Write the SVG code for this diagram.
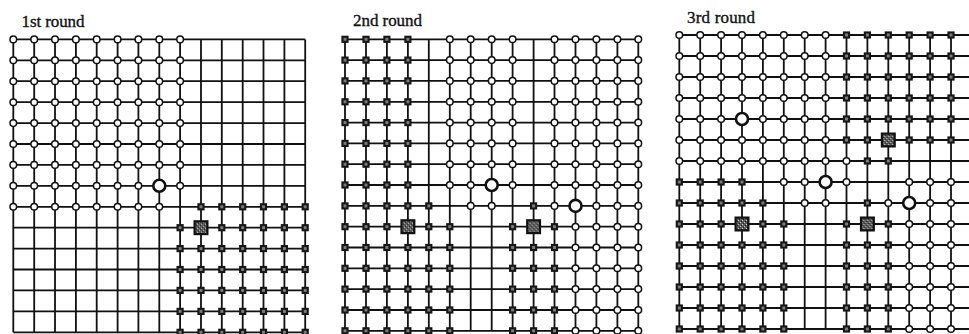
<svg xmlns="http://www.w3.org/2000/svg" width="969" height="334" viewBox="0 0 969 334">
<style>
.grid{fill:none;stroke:#111;stroke-width:1.8}
.lbl{font-family:"Liberation Serif","Times New Roman",serif;font-size:17px;fill:#111;stroke:#111;stroke-width:0.35}
</style>
<defs>
<pattern id="speck" width="4" height="4" patternUnits="userSpaceOnUse"><rect width="4" height="4" fill="#5a5a5a"/><rect x="0" y="0" width="1" height="1" fill="#ccc"/><rect x="2" y="2" width="1" height="1" fill="#ccc"/><rect x="1" y="3" width="1" height="1" fill="#1a1a1a"/><rect x="3" y="1" width="1" height="1" fill="#1a1a1a"/></pattern>
<circle id="c" r="3.3" fill="#fff" stroke="#111" stroke-width="1.5"/>
<circle id="C" r="6" fill="#fff" stroke="#111" stroke-width="2.6"/>
<g id="s"><rect x="-3.6" y="-3.6" width="7.2" height="7.2" fill="#161616"/><rect x="-1.5" y="-1.5" width="3" height="3" fill="#7a7a7a"/></g>
<g id="S"><rect x="-6.4" y="-6.4" width="12.8" height="12.8" fill="url(#speck)" stroke="#111" stroke-width="2.2"/></g>
</defs>
<rect width="969" height="334" fill="#fff"/>
<text class="lbl" x="21.5" y="27" textLength="63">1st round</text>
<text class="lbl" x="353" y="25.5" textLength="69">2nd round</text>
<text class="lbl" x="687" y="22.5" textLength="68">3rd round</text>
<g id="connectors">
<path class="grid" d="M13.3 39.4H305.2M13.3 60.3H305.2M13.3 81.2H305.2M13.3 102.2H305.2M13.3 123.1H305.2M13.3 144H305.2M13.3 164.9H305.2M13.3 185.8H305.2M13.3 206.8H305.2M13.3 227.7H305.2M13.3 248.6H305.2M13.3 269.5H305.2M13.3 290.4H305.2M13.3 311.4H305.2M13.3 332.3H305.2M13.3 39.4V332.3M34.2 39.4V332.3M55 39.4V332.3M75.9 39.4V332.3M96.7 39.4V332.3M117.6 39.4V332.3M138.4 39.4V332.3M159.3 39.4V332.3M180.1 39.4V332.3M201 39.4V332.3M221.8 39.4V332.3M242.7 39.4V332.3M263.5 39.4V332.3M284.4 39.4V332.3M305.2 39.4V332.3"/>
<path class="grid" d="M345 39.3H638.3M345 60.1H638.3M345 80.9H638.3M345 101.8H638.3M345 122.6H638.3M345 143.4H638.3M345 164.2H638.3M345 185H638.3M345 205.9H638.3M345 226.7H638.3M345 247.5H638.3M345 268.3H638.3M345 289.1H638.3M345 310H638.3M345 330.8H638.3M345 39.3V330.8M366 39.3V330.8M386.9 39.3V330.8M407.9 39.3V330.8M428.8 39.3V330.8M449.8 39.3V330.8M470.7 39.3V330.8M491.7 39.3V330.8M512.6 39.3V330.8M533.6 39.3V330.8M554.5 39.3V330.8M575.5 39.3V330.8M596.4 39.3V330.8M617.4 39.3V330.8M638.3 39.3V330.8"/>
<path class="grid" d="M679.3 35H971.9M679.3 56H971.9M679.3 77H971.9M679.3 98H971.9M679.3 119H971.9M679.3 140H971.9M679.3 161H971.9M679.3 182H971.9M679.3 203H971.9M679.3 224H971.9M679.3 245H971.9M679.3 266H971.9M679.3 287H971.9M679.3 308H971.9M679.3 329H971.9M679.3 35V329M700.2 35V329M721.1 35V329M742 35V329M762.9 35V329M783.8 35V329M804.7 35V329M825.6 35V329M846.5 35V329M867.4 35V329M888.3 35V329M909.2 35V329M930.1 35V329M951 35V329M971.9 35V329"/>
</g>
<g id="round1">
<g id="r1-0-0"><use href="#c" x="13.3" y="39.4"/></g><g id="r1-0-1"><use href="#c" x="34.2" y="39.4"/></g><g id="r1-0-2"><use href="#c" x="55" y="39.4"/></g><g id="r1-0-3"><use href="#c" x="75.9" y="39.4"/></g><g id="r1-0-4"><use href="#c" x="96.7" y="39.4"/></g><g id="r1-0-5"><use href="#c" x="117.6" y="39.4"/></g><g id="r1-0-6"><use href="#c" x="138.4" y="39.4"/></g><g id="r1-0-7"><use href="#c" x="159.3" y="39.4"/></g><g id="r1-0-8"><use href="#c" x="180.1" y="39.4"/></g>
<g id="r1-1-0"><use href="#c" x="13.3" y="60.3"/></g><g id="r1-1-1"><use href="#c" x="34.2" y="60.3"/></g><g id="r1-1-2"><use href="#c" x="55" y="60.3"/></g><g id="r1-1-3"><use href="#c" x="75.9" y="60.3"/></g><g id="r1-1-4"><use href="#c" x="96.7" y="60.3"/></g><g id="r1-1-5"><use href="#c" x="117.6" y="60.3"/></g><g id="r1-1-6"><use href="#c" x="138.4" y="60.3"/></g><g id="r1-1-7"><use href="#c" x="159.3" y="60.3"/></g><g id="r1-1-8"><use href="#c" x="180.1" y="60.3"/></g>
<g id="r1-2-0"><use href="#c" x="13.3" y="81.2"/></g><g id="r1-2-1"><use href="#c" x="34.2" y="81.2"/></g><g id="r1-2-2"><use href="#c" x="55" y="81.2"/></g><g id="r1-2-3"><use href="#c" x="75.9" y="81.2"/></g><g id="r1-2-4"><use href="#c" x="96.7" y="81.2"/></g><g id="r1-2-5"><use href="#c" x="117.6" y="81.2"/></g><g id="r1-2-6"><use href="#c" x="138.4" y="81.2"/></g><g id="r1-2-7"><use href="#c" x="159.3" y="81.2"/></g><g id="r1-2-8"><use href="#c" x="180.1" y="81.2"/></g>
<g id="r1-3-0"><use href="#c" x="13.3" y="102.2"/></g><g id="r1-3-1"><use href="#c" x="34.2" y="102.2"/></g><g id="r1-3-2"><use href="#c" x="55" y="102.2"/></g><g id="r1-3-3"><use href="#c" x="75.9" y="102.2"/></g><g id="r1-3-4"><use href="#c" x="96.7" y="102.2"/></g><g id="r1-3-5"><use href="#c" x="117.6" y="102.2"/></g><g id="r1-3-6"><use href="#c" x="138.4" y="102.2"/></g><g id="r1-3-7"><use href="#c" x="159.3" y="102.2"/></g><g id="r1-3-8"><use href="#c" x="180.1" y="102.2"/></g>
<g id="r1-4-0"><use href="#c" x="13.3" y="123.1"/></g><g id="r1-4-1"><use href="#c" x="34.2" y="123.1"/></g><g id="r1-4-2"><use href="#c" x="55" y="123.1"/></g><g id="r1-4-3"><use href="#c" x="75.9" y="123.1"/></g><g id="r1-4-4"><use href="#c" x="96.7" y="123.1"/></g><g id="r1-4-5"><use href="#c" x="117.6" y="123.1"/></g><g id="r1-4-6"><use href="#c" x="138.4" y="123.1"/></g><g id="r1-4-7"><use href="#c" x="159.3" y="123.1"/></g><g id="r1-4-8"><use href="#c" x="180.1" y="123.1"/></g>
<g id="r1-5-0"><use href="#c" x="13.3" y="144"/></g><g id="r1-5-1"><use href="#c" x="34.2" y="144"/></g><g id="r1-5-2"><use href="#c" x="55" y="144"/></g><g id="r1-5-3"><use href="#c" x="75.9" y="144"/></g><g id="r1-5-4"><use href="#c" x="96.7" y="144"/></g><g id="r1-5-5"><use href="#c" x="117.6" y="144"/></g><g id="r1-5-6"><use href="#c" x="138.4" y="144"/></g><g id="r1-5-7"><use href="#c" x="159.3" y="144"/></g><g id="r1-5-8"><use href="#c" x="180.1" y="144"/></g>
<g id="r1-6-0"><use href="#c" x="13.3" y="164.9"/></g><g id="r1-6-1"><use href="#c" x="34.2" y="164.9"/></g><g id="r1-6-2"><use href="#c" x="55" y="164.9"/></g><g id="r1-6-3"><use href="#c" x="75.9" y="164.9"/></g><g id="r1-6-4"><use href="#c" x="96.7" y="164.9"/></g><g id="r1-6-5"><use href="#c" x="117.6" y="164.9"/></g><g id="r1-6-6"><use href="#c" x="138.4" y="164.9"/></g><g id="r1-6-7"><use href="#c" x="159.3" y="164.9"/></g><g id="r1-6-8"><use href="#c" x="180.1" y="164.9"/></g>
<g id="r1-7-0"><use href="#c" x="13.3" y="185.8"/></g><g id="r1-7-1"><use href="#c" x="34.2" y="185.8"/></g><g id="r1-7-2"><use href="#c" x="55" y="185.8"/></g><g id="r1-7-3"><use href="#c" x="75.9" y="185.8"/></g><g id="r1-7-4"><use href="#c" x="96.7" y="185.8"/></g><g id="r1-7-5"><use href="#c" x="117.6" y="185.8"/></g><g id="r1-7-6"><use href="#c" x="138.4" y="185.8"/></g><g id="r1-7-7"><use href="#C" x="159.3" y="185.8"/></g><g id="r1-7-8"><use href="#c" x="180.1" y="185.8"/></g>
<g id="r1-8-0"><use href="#c" x="13.3" y="206.8"/></g><g id="r1-8-1"><use href="#c" x="34.2" y="206.8"/></g><g id="r1-8-2"><use href="#c" x="55" y="206.8"/></g><g id="r1-8-3"><use href="#c" x="75.9" y="206.8"/></g><g id="r1-8-4"><use href="#c" x="96.7" y="206.8"/></g><g id="r1-8-5"><use href="#c" x="117.6" y="206.8"/></g><g id="r1-8-6"><use href="#c" x="138.4" y="206.8"/></g><g id="r1-8-7"><use href="#c" x="159.3" y="206.8"/></g><g id="r1-8-9"><use href="#s" x="201" y="206.8"/></g><g id="r1-8-10"><use href="#s" x="221.8" y="206.8"/></g><g id="r1-8-11"><use href="#s" x="242.7" y="206.8"/></g><g id="r1-8-12"><use href="#s" x="263.5" y="206.8"/></g><g id="r1-8-13"><use href="#s" x="284.4" y="206.8"/></g><g id="r1-8-14"><use href="#s" x="305.2" y="206.8"/></g>
<g id="r1-9-8"><use href="#s" x="180.1" y="227.7"/></g><g id="r1-9-9"><use href="#S" x="201" y="227.7"/></g><g id="r1-9-10"><use href="#s" x="221.8" y="227.7"/></g><g id="r1-9-11"><use href="#s" x="242.7" y="227.7"/></g><g id="r1-9-12"><use href="#s" x="263.5" y="227.7"/></g><g id="r1-9-13"><use href="#s" x="284.4" y="227.7"/></g><g id="r1-9-14"><use href="#s" x="305.2" y="227.7"/></g>
<g id="r1-10-8"><use href="#s" x="180.1" y="248.6"/></g><g id="r1-10-9"><use href="#s" x="201" y="248.6"/></g><g id="r1-10-10"><use href="#s" x="221.8" y="248.6"/></g><g id="r1-10-11"><use href="#s" x="242.7" y="248.6"/></g><g id="r1-10-12"><use href="#s" x="263.5" y="248.6"/></g><g id="r1-10-13"><use href="#s" x="284.4" y="248.6"/></g><g id="r1-10-14"><use href="#s" x="305.2" y="248.6"/></g>
<g id="r1-11-8"><use href="#s" x="180.1" y="269.5"/></g><g id="r1-11-9"><use href="#s" x="201" y="269.5"/></g><g id="r1-11-10"><use href="#s" x="221.8" y="269.5"/></g><g id="r1-11-11"><use href="#s" x="242.7" y="269.5"/></g><g id="r1-11-12"><use href="#s" x="263.5" y="269.5"/></g><g id="r1-11-13"><use href="#s" x="284.4" y="269.5"/></g><g id="r1-11-14"><use href="#s" x="305.2" y="269.5"/></g>
<g id="r1-12-8"><use href="#s" x="180.1" y="290.4"/></g><g id="r1-12-9"><use href="#s" x="201" y="290.4"/></g><g id="r1-12-10"><use href="#s" x="221.8" y="290.4"/></g><g id="r1-12-11"><use href="#s" x="242.7" y="290.4"/></g><g id="r1-12-12"><use href="#s" x="263.5" y="290.4"/></g><g id="r1-12-13"><use href="#s" x="284.4" y="290.4"/></g><g id="r1-12-14"><use href="#s" x="305.2" y="290.4"/></g>
<g id="r1-13-8"><use href="#s" x="180.1" y="311.4"/></g><g id="r1-13-9"><use href="#s" x="201" y="311.4"/></g><g id="r1-13-10"><use href="#s" x="221.8" y="311.4"/></g><g id="r1-13-11"><use href="#s" x="242.7" y="311.4"/></g><g id="r1-13-12"><use href="#s" x="263.5" y="311.4"/></g><g id="r1-13-13"><use href="#s" x="284.4" y="311.4"/></g><g id="r1-13-14"><use href="#s" x="305.2" y="311.4"/></g>
<g id="r1-14-8"><use href="#s" x="180.1" y="332.3"/></g><g id="r1-14-9"><use href="#s" x="201" y="332.3"/></g><g id="r1-14-10"><use href="#s" x="221.8" y="332.3"/></g><g id="r1-14-11"><use href="#s" x="242.7" y="332.3"/></g><g id="r1-14-12"><use href="#s" x="263.5" y="332.3"/></g><g id="r1-14-13"><use href="#s" x="284.4" y="332.3"/></g><g id="r1-14-14"><use href="#s" x="305.2" y="332.3"/></g>
</g>
<g id="round2">
<g id="r2-0-0"><use href="#s" x="345" y="39.3"/></g><g id="r2-0-1"><use href="#s" x="366" y="39.3"/></g><g id="r2-0-2"><use href="#s" x="386.9" y="39.3"/></g><g id="r2-0-3"><use href="#s" x="407.9" y="39.3"/></g><g id="r2-0-5"><use href="#c" x="449.8" y="39.3"/></g><g id="r2-0-6"><use href="#c" x="470.7" y="39.3"/></g><g id="r2-0-7"><use href="#c" x="491.7" y="39.3"/></g><g id="r2-0-8"><use href="#c" x="512.6" y="39.3"/></g><g id="r2-0-10"><use href="#c" x="554.5" y="39.3"/></g><g id="r2-0-11"><use href="#c" x="575.5" y="39.3"/></g><g id="r2-0-12"><use href="#c" x="596.4" y="39.3"/></g><g id="r2-0-13"><use href="#c" x="617.4" y="39.3"/></g><g id="r2-0-14"><use href="#c" x="638.3" y="39.3"/></g>
<g id="r2-1-0"><use href="#s" x="345" y="60.1"/></g><g id="r2-1-1"><use href="#s" x="366" y="60.1"/></g><g id="r2-1-2"><use href="#s" x="386.9" y="60.1"/></g><g id="r2-1-3"><use href="#s" x="407.9" y="60.1"/></g><g id="r2-1-5"><use href="#c" x="449.8" y="60.1"/></g><g id="r2-1-6"><use href="#c" x="470.7" y="60.1"/></g><g id="r2-1-7"><use href="#c" x="491.7" y="60.1"/></g><g id="r2-1-8"><use href="#c" x="512.6" y="60.1"/></g><g id="r2-1-10"><use href="#c" x="554.5" y="60.1"/></g><g id="r2-1-11"><use href="#c" x="575.5" y="60.1"/></g><g id="r2-1-12"><use href="#c" x="596.4" y="60.1"/></g><g id="r2-1-13"><use href="#c" x="617.4" y="60.1"/></g><g id="r2-1-14"><use href="#c" x="638.3" y="60.1"/></g>
<g id="r2-2-0"><use href="#s" x="345" y="80.9"/></g><g id="r2-2-1"><use href="#s" x="366" y="80.9"/></g><g id="r2-2-2"><use href="#s" x="386.9" y="80.9"/></g><g id="r2-2-3"><use href="#s" x="407.9" y="80.9"/></g><g id="r2-2-5"><use href="#c" x="449.8" y="80.9"/></g><g id="r2-2-6"><use href="#c" x="470.7" y="80.9"/></g><g id="r2-2-7"><use href="#c" x="491.7" y="80.9"/></g><g id="r2-2-8"><use href="#c" x="512.6" y="80.9"/></g><g id="r2-2-10"><use href="#c" x="554.5" y="80.9"/></g><g id="r2-2-11"><use href="#c" x="575.5" y="80.9"/></g><g id="r2-2-12"><use href="#c" x="596.4" y="80.9"/></g><g id="r2-2-13"><use href="#c" x="617.4" y="80.9"/></g><g id="r2-2-14"><use href="#c" x="638.3" y="80.9"/></g>
<g id="r2-3-0"><use href="#s" x="345" y="101.8"/></g><g id="r2-3-1"><use href="#s" x="366" y="101.8"/></g><g id="r2-3-2"><use href="#s" x="386.9" y="101.8"/></g><g id="r2-3-3"><use href="#s" x="407.9" y="101.8"/></g><g id="r2-3-5"><use href="#c" x="449.8" y="101.8"/></g><g id="r2-3-6"><use href="#c" x="470.7" y="101.8"/></g><g id="r2-3-7"><use href="#c" x="491.7" y="101.8"/></g><g id="r2-3-8"><use href="#c" x="512.6" y="101.8"/></g><g id="r2-3-10"><use href="#c" x="554.5" y="101.8"/></g><g id="r2-3-11"><use href="#c" x="575.5" y="101.8"/></g><g id="r2-3-12"><use href="#c" x="596.4" y="101.8"/></g><g id="r2-3-13"><use href="#c" x="617.4" y="101.8"/></g><g id="r2-3-14"><use href="#c" x="638.3" y="101.8"/></g>
<g id="r2-4-0"><use href="#s" x="345" y="122.6"/></g><g id="r2-4-1"><use href="#s" x="366" y="122.6"/></g><g id="r2-4-2"><use href="#s" x="386.9" y="122.6"/></g><g id="r2-4-3"><use href="#s" x="407.9" y="122.6"/></g><g id="r2-4-5"><use href="#c" x="449.8" y="122.6"/></g><g id="r2-4-6"><use href="#c" x="470.7" y="122.6"/></g><g id="r2-4-7"><use href="#c" x="491.7" y="122.6"/></g><g id="r2-4-8"><use href="#c" x="512.6" y="122.6"/></g><g id="r2-4-10"><use href="#c" x="554.5" y="122.6"/></g><g id="r2-4-11"><use href="#c" x="575.5" y="122.6"/></g><g id="r2-4-12"><use href="#c" x="596.4" y="122.6"/></g><g id="r2-4-13"><use href="#c" x="617.4" y="122.6"/></g><g id="r2-4-14"><use href="#c" x="638.3" y="122.6"/></g>
<g id="r2-5-0"><use href="#s" x="345" y="143.4"/></g><g id="r2-5-1"><use href="#s" x="366" y="143.4"/></g><g id="r2-5-2"><use href="#s" x="386.9" y="143.4"/></g><g id="r2-5-3"><use href="#s" x="407.9" y="143.4"/></g><g id="r2-5-5"><use href="#c" x="449.8" y="143.4"/></g><g id="r2-5-6"><use href="#c" x="470.7" y="143.4"/></g><g id="r2-5-7"><use href="#c" x="491.7" y="143.4"/></g><g id="r2-5-8"><use href="#c" x="512.6" y="143.4"/></g><g id="r2-5-10"><use href="#c" x="554.5" y="143.4"/></g><g id="r2-5-11"><use href="#c" x="575.5" y="143.4"/></g><g id="r2-5-12"><use href="#c" x="596.4" y="143.4"/></g><g id="r2-5-13"><use href="#c" x="617.4" y="143.4"/></g><g id="r2-5-14"><use href="#c" x="638.3" y="143.4"/></g>
<g id="r2-6-0"><use href="#s" x="345" y="164.2"/></g><g id="r2-6-1"><use href="#s" x="366" y="164.2"/></g><g id="r2-6-2"><use href="#s" x="386.9" y="164.2"/></g><g id="r2-6-3"><use href="#s" x="407.9" y="164.2"/></g><g id="r2-6-5"><use href="#c" x="449.8" y="164.2"/></g><g id="r2-6-6"><use href="#c" x="470.7" y="164.2"/></g><g id="r2-6-7"><use href="#c" x="491.7" y="164.2"/></g><g id="r2-6-8"><use href="#c" x="512.6" y="164.2"/></g><g id="r2-6-10"><use href="#c" x="554.5" y="164.2"/></g><g id="r2-6-11"><use href="#c" x="575.5" y="164.2"/></g><g id="r2-6-12"><use href="#c" x="596.4" y="164.2"/></g><g id="r2-6-13"><use href="#c" x="617.4" y="164.2"/></g><g id="r2-6-14"><use href="#c" x="638.3" y="164.2"/></g>
<g id="r2-7-0"><use href="#s" x="345" y="185"/></g><g id="r2-7-1"><use href="#s" x="366" y="185"/></g><g id="r2-7-2"><use href="#s" x="386.9" y="185"/></g><g id="r2-7-3"><use href="#s" x="407.9" y="185"/></g><g id="r2-7-5"><use href="#c" x="449.8" y="185"/></g><g id="r2-7-6"><use href="#c" x="470.7" y="185"/></g><g id="r2-7-7"><use href="#C" x="491.7" y="185"/></g><g id="r2-7-8"><use href="#c" x="512.6" y="185"/></g><g id="r2-7-10"><use href="#c" x="554.5" y="185"/></g><g id="r2-7-11"><use href="#c" x="575.5" y="185"/></g><g id="r2-7-12"><use href="#c" x="596.4" y="185"/></g><g id="r2-7-13"><use href="#c" x="617.4" y="185"/></g><g id="r2-7-14"><use href="#c" x="638.3" y="185"/></g>
<g id="r2-8-0"><use href="#s" x="345" y="205.9"/></g><g id="r2-8-1"><use href="#s" x="366" y="205.9"/></g><g id="r2-8-2"><use href="#s" x="386.9" y="205.9"/></g><g id="r2-8-3"><use href="#s" x="407.9" y="205.9"/></g><g id="r2-8-4"><use href="#s" x="428.8" y="205.9"/></g><g id="r2-8-6"><use href="#c" x="470.7" y="205.9"/></g><g id="r2-8-7"><use href="#c" x="491.7" y="205.9"/></g><g id="r2-8-9"><use href="#s" x="533.6" y="205.9"/></g><g id="r2-8-10"><use href="#c" x="554.5" y="205.9"/></g><g id="r2-8-11"><use href="#C" x="575.5" y="205.9"/></g><g id="r2-8-12"><use href="#c" x="596.4" y="205.9"/></g><g id="r2-8-13"><use href="#c" x="617.4" y="205.9"/></g><g id="r2-8-14"><use href="#c" x="638.3" y="205.9"/></g>
<g id="r2-9-0"><use href="#s" x="345" y="226.7"/></g><g id="r2-9-1"><use href="#s" x="366" y="226.7"/></g><g id="r2-9-2"><use href="#s" x="386.9" y="226.7"/></g><g id="r2-9-3"><use href="#S" x="407.9" y="226.7"/></g><g id="r2-9-4"><use href="#s" x="428.8" y="226.7"/></g><g id="r2-9-5"><use href="#s" x="449.8" y="226.7"/></g><g id="r2-9-8"><use href="#s" x="512.6" y="226.7"/></g><g id="r2-9-9"><use href="#S" x="533.6" y="226.7"/></g><g id="r2-9-10"><use href="#s" x="554.5" y="226.7"/></g><g id="r2-9-11"><use href="#c" x="575.5" y="226.7"/></g><g id="r2-9-12"><use href="#c" x="596.4" y="226.7"/></g><g id="r2-9-13"><use href="#c" x="617.4" y="226.7"/></g><g id="r2-9-14"><use href="#c" x="638.3" y="226.7"/></g>
<g id="r2-10-0"><use href="#s" x="345" y="247.5"/></g><g id="r2-10-1"><use href="#s" x="366" y="247.5"/></g><g id="r2-10-2"><use href="#s" x="386.9" y="247.5"/></g><g id="r2-10-3"><use href="#s" x="407.9" y="247.5"/></g><g id="r2-10-4"><use href="#s" x="428.8" y="247.5"/></g><g id="r2-10-5"><use href="#s" x="449.8" y="247.5"/></g><g id="r2-10-8"><use href="#s" x="512.6" y="247.5"/></g><g id="r2-10-9"><use href="#s" x="533.6" y="247.5"/></g><g id="r2-10-10"><use href="#s" x="554.5" y="247.5"/></g><g id="r2-10-11"><use href="#c" x="575.5" y="247.5"/></g><g id="r2-10-12"><use href="#c" x="596.4" y="247.5"/></g><g id="r2-10-13"><use href="#c" x="617.4" y="247.5"/></g><g id="r2-10-14"><use href="#c" x="638.3" y="247.5"/></g>
<g id="r2-11-0"><use href="#s" x="345" y="268.3"/></g><g id="r2-11-1"><use href="#s" x="366" y="268.3"/></g><g id="r2-11-2"><use href="#s" x="386.9" y="268.3"/></g><g id="r2-11-3"><use href="#s" x="407.9" y="268.3"/></g><g id="r2-11-4"><use href="#s" x="428.8" y="268.3"/></g><g id="r2-11-5"><use href="#s" x="449.8" y="268.3"/></g><g id="r2-11-8"><use href="#s" x="512.6" y="268.3"/></g><g id="r2-11-9"><use href="#s" x="533.6" y="268.3"/></g><g id="r2-11-10"><use href="#s" x="554.5" y="268.3"/></g><g id="r2-11-11"><use href="#c" x="575.5" y="268.3"/></g><g id="r2-11-12"><use href="#c" x="596.4" y="268.3"/></g><g id="r2-11-13"><use href="#c" x="617.4" y="268.3"/></g><g id="r2-11-14"><use href="#c" x="638.3" y="268.3"/></g>
<g id="r2-12-0"><use href="#s" x="345" y="289.1"/></g><g id="r2-12-1"><use href="#s" x="366" y="289.1"/></g><g id="r2-12-2"><use href="#s" x="386.9" y="289.1"/></g><g id="r2-12-3"><use href="#s" x="407.9" y="289.1"/></g><g id="r2-12-4"><use href="#s" x="428.8" y="289.1"/></g><g id="r2-12-5"><use href="#s" x="449.8" y="289.1"/></g><g id="r2-12-8"><use href="#s" x="512.6" y="289.1"/></g><g id="r2-12-9"><use href="#s" x="533.6" y="289.1"/></g><g id="r2-12-10"><use href="#s" x="554.5" y="289.1"/></g><g id="r2-12-11"><use href="#c" x="575.5" y="289.1"/></g><g id="r2-12-12"><use href="#c" x="596.4" y="289.1"/></g><g id="r2-12-13"><use href="#c" x="617.4" y="289.1"/></g><g id="r2-12-14"><use href="#c" x="638.3" y="289.1"/></g>
<g id="r2-13-0"><use href="#s" x="345" y="310"/></g><g id="r2-13-1"><use href="#s" x="366" y="310"/></g><g id="r2-13-2"><use href="#s" x="386.9" y="310"/></g><g id="r2-13-3"><use href="#s" x="407.9" y="310"/></g><g id="r2-13-4"><use href="#s" x="428.8" y="310"/></g><g id="r2-13-5"><use href="#s" x="449.8" y="310"/></g><g id="r2-13-8"><use href="#s" x="512.6" y="310"/></g><g id="r2-13-9"><use href="#s" x="533.6" y="310"/></g><g id="r2-13-10"><use href="#s" x="554.5" y="310"/></g><g id="r2-13-11"><use href="#c" x="575.5" y="310"/></g><g id="r2-13-12"><use href="#c" x="596.4" y="310"/></g><g id="r2-13-13"><use href="#c" x="617.4" y="310"/></g><g id="r2-13-14"><use href="#c" x="638.3" y="310"/></g>
<g id="r2-14-0"><use href="#s" x="345" y="330.8"/></g><g id="r2-14-1"><use href="#s" x="366" y="330.8"/></g><g id="r2-14-2"><use href="#s" x="386.9" y="330.8"/></g><g id="r2-14-3"><use href="#s" x="407.9" y="330.8"/></g><g id="r2-14-4"><use href="#s" x="428.8" y="330.8"/></g><g id="r2-14-5"><use href="#s" x="449.8" y="330.8"/></g><g id="r2-14-8"><use href="#s" x="512.6" y="330.8"/></g><g id="r2-14-9"><use href="#s" x="533.6" y="330.8"/></g><g id="r2-14-10"><use href="#s" x="554.5" y="330.8"/></g><g id="r2-14-11"><use href="#c" x="575.5" y="330.8"/></g><g id="r2-14-12"><use href="#c" x="596.4" y="330.8"/></g><g id="r2-14-13"><use href="#c" x="617.4" y="330.8"/></g><g id="r2-14-14"><use href="#c" x="638.3" y="330.8"/></g>
</g>
<g id="round3">
<g id="r3-0-0"><use href="#c" x="679.3" y="35"/></g><g id="r3-0-1"><use href="#c" x="700.2" y="35"/></g><g id="r3-0-2"><use href="#c" x="721.1" y="35"/></g><g id="r3-0-3"><use href="#c" x="742" y="35"/></g><g id="r3-0-4"><use href="#c" x="762.9" y="35"/></g><g id="r3-0-5"><use href="#c" x="783.8" y="35"/></g><g id="r3-0-6"><use href="#c" x="804.7" y="35"/></g><g id="r3-0-7"><use href="#c" x="825.6" y="35"/></g><g id="r3-0-8"><use href="#s" x="846.5" y="35"/></g><g id="r3-0-9"><use href="#s" x="867.4" y="35"/></g><g id="r3-0-10"><use href="#s" x="888.3" y="35"/></g><g id="r3-0-11"><use href="#s" x="909.2" y="35"/></g><g id="r3-0-12"><use href="#s" x="930.1" y="35"/></g><g id="r3-0-13"><use href="#s" x="951" y="35"/></g>
<g id="r3-1-0"><use href="#c" x="679.3" y="56"/></g><g id="r3-1-1"><use href="#c" x="700.2" y="56"/></g><g id="r3-1-2"><use href="#c" x="721.1" y="56"/></g><g id="r3-1-3"><use href="#c" x="742" y="56"/></g><g id="r3-1-4"><use href="#c" x="762.9" y="56"/></g><g id="r3-1-5"><use href="#c" x="783.8" y="56"/></g><g id="r3-1-6"><use href="#c" x="804.7" y="56"/></g><g id="r3-1-7"><use href="#c" x="825.6" y="56"/></g><g id="r3-1-8"><use href="#s" x="846.5" y="56"/></g><g id="r3-1-9"><use href="#s" x="867.4" y="56"/></g><g id="r3-1-10"><use href="#s" x="888.3" y="56"/></g><g id="r3-1-11"><use href="#s" x="909.2" y="56"/></g><g id="r3-1-12"><use href="#s" x="930.1" y="56"/></g><g id="r3-1-13"><use href="#s" x="951" y="56"/></g>
<g id="r3-2-0"><use href="#c" x="679.3" y="77"/></g><g id="r3-2-1"><use href="#c" x="700.2" y="77"/></g><g id="r3-2-2"><use href="#c" x="721.1" y="77"/></g><g id="r3-2-3"><use href="#c" x="742" y="77"/></g><g id="r3-2-4"><use href="#c" x="762.9" y="77"/></g><g id="r3-2-5"><use href="#c" x="783.8" y="77"/></g><g id="r3-2-6"><use href="#c" x="804.7" y="77"/></g><g id="r3-2-7"><use href="#c" x="825.6" y="77"/></g><g id="r3-2-8"><use href="#s" x="846.5" y="77"/></g><g id="r3-2-9"><use href="#s" x="867.4" y="77"/></g><g id="r3-2-10"><use href="#s" x="888.3" y="77"/></g><g id="r3-2-11"><use href="#s" x="909.2" y="77"/></g><g id="r3-2-12"><use href="#s" x="930.1" y="77"/></g><g id="r3-2-13"><use href="#s" x="951" y="77"/></g>
<g id="r3-3-0"><use href="#c" x="679.3" y="98"/></g><g id="r3-3-1"><use href="#c" x="700.2" y="98"/></g><g id="r3-3-2"><use href="#c" x="721.1" y="98"/></g><g id="r3-3-3"><use href="#c" x="742" y="98"/></g><g id="r3-3-4"><use href="#c" x="762.9" y="98"/></g><g id="r3-3-5"><use href="#c" x="783.8" y="98"/></g><g id="r3-3-6"><use href="#c" x="804.7" y="98"/></g><g id="r3-3-7"><use href="#c" x="825.6" y="98"/></g><g id="r3-3-8"><use href="#s" x="846.5" y="98"/></g><g id="r3-3-9"><use href="#s" x="867.4" y="98"/></g><g id="r3-3-10"><use href="#s" x="888.3" y="98"/></g><g id="r3-3-11"><use href="#s" x="909.2" y="98"/></g><g id="r3-3-12"><use href="#s" x="930.1" y="98"/></g><g id="r3-3-13"><use href="#s" x="951" y="98"/></g>
<g id="r3-4-0"><use href="#c" x="679.3" y="119"/></g><g id="r3-4-1"><use href="#c" x="700.2" y="119"/></g><g id="r3-4-2"><use href="#c" x="721.1" y="119"/></g><g id="r3-4-3"><use href="#C" x="742" y="119"/></g><g id="r3-4-4"><use href="#c" x="762.9" y="119"/></g><g id="r3-4-5"><use href="#c" x="783.8" y="119"/></g><g id="r3-4-6"><use href="#c" x="804.7" y="119"/></g><g id="r3-4-7"><use href="#c" x="825.6" y="119"/></g><g id="r3-4-8"><use href="#s" x="846.5" y="119"/></g><g id="r3-4-9"><use href="#s" x="867.4" y="119"/></g><g id="r3-4-10"><use href="#s" x="888.3" y="119"/></g><g id="r3-4-11"><use href="#s" x="909.2" y="119"/></g><g id="r3-4-12"><use href="#s" x="930.1" y="119"/></g><g id="r3-4-13"><use href="#s" x="951" y="119"/></g>
<g id="r3-5-0"><use href="#c" x="679.3" y="140"/></g><g id="r3-5-1"><use href="#c" x="700.2" y="140"/></g><g id="r3-5-2"><use href="#c" x="721.1" y="140"/></g><g id="r3-5-3"><use href="#c" x="742" y="140"/></g><g id="r3-5-4"><use href="#c" x="762.9" y="140"/></g><g id="r3-5-5"><use href="#c" x="783.8" y="140"/></g><g id="r3-5-6"><use href="#c" x="804.7" y="140"/></g><g id="r3-5-7"><use href="#c" x="825.6" y="140"/></g><g id="r3-5-8"><use href="#s" x="846.5" y="140"/></g><g id="r3-5-9"><use href="#s" x="867.4" y="140"/></g><g id="r3-5-10"><use href="#S" x="888.3" y="140"/></g><g id="r3-5-11"><use href="#s" x="909.2" y="140"/></g><g id="r3-5-12"><use href="#s" x="930.1" y="140"/></g><g id="r3-5-13"><use href="#s" x="951" y="140"/></g>
<g id="r3-6-0"><use href="#c" x="679.3" y="161"/></g><g id="r3-6-1"><use href="#c" x="700.2" y="161"/></g><g id="r3-6-2"><use href="#c" x="721.1" y="161"/></g><g id="r3-6-3"><use href="#c" x="742" y="161"/></g><g id="r3-6-4"><use href="#c" x="762.9" y="161"/></g><g id="r3-6-5"><use href="#c" x="783.8" y="161"/></g><g id="r3-6-6"><use href="#c" x="804.7" y="161"/></g><g id="r3-6-7"><use href="#c" x="825.6" y="161"/></g><g id="r3-6-8"><use href="#c" x="846.5" y="161"/></g><g id="r3-6-9"><use href="#s" x="867.4" y="161"/></g><g id="r3-6-10"><use href="#s" x="888.3" y="161"/></g>
<g id="r3-7-0"><use href="#s" x="679.3" y="182"/></g><g id="r3-7-1"><use href="#s" x="700.2" y="182"/></g><g id="r3-7-2"><use href="#s" x="721.1" y="182"/></g><g id="r3-7-3"><use href="#s" x="742" y="182"/></g><g id="r3-7-5"><use href="#c" x="783.8" y="182"/></g><g id="r3-7-6"><use href="#c" x="804.7" y="182"/></g><g id="r3-7-7"><use href="#C" x="825.6" y="182"/></g><g id="r3-7-8"><use href="#c" x="846.5" y="182"/></g><g id="r3-7-11"><use href="#c" x="909.2" y="182"/></g><g id="r3-7-12"><use href="#c" x="930.1" y="182"/></g><g id="r3-7-13"><use href="#c" x="951" y="182"/></g>
<g id="r3-8-0"><use href="#s" x="679.3" y="203"/></g><g id="r3-8-1"><use href="#s" x="700.2" y="203"/></g><g id="r3-8-2"><use href="#s" x="721.1" y="203"/></g><g id="r3-8-3"><use href="#s" x="742" y="203"/></g><g id="r3-8-4"><use href="#s" x="762.9" y="203"/></g><g id="r3-8-6"><use href="#c" x="804.7" y="203"/></g><g id="r3-8-7"><use href="#c" x="825.6" y="203"/></g><g id="r3-8-9"><use href="#s" x="867.4" y="203"/></g><g id="r3-8-10"><use href="#c" x="888.3" y="203"/></g><g id="r3-8-11"><use href="#C" x="909.2" y="203"/></g><g id="r3-8-12"><use href="#c" x="930.1" y="203"/></g><g id="r3-8-13"><use href="#c" x="951" y="203"/></g>
<g id="r3-9-0"><use href="#s" x="679.3" y="224"/></g><g id="r3-9-1"><use href="#s" x="700.2" y="224"/></g><g id="r3-9-2"><use href="#s" x="721.1" y="224"/></g><g id="r3-9-3"><use href="#S" x="742" y="224"/></g><g id="r3-9-4"><use href="#s" x="762.9" y="224"/></g><g id="r3-9-5"><use href="#s" x="783.8" y="224"/></g><g id="r3-9-8"><use href="#s" x="846.5" y="224"/></g><g id="r3-9-9"><use href="#S" x="867.4" y="224"/></g><g id="r3-9-10"><use href="#s" x="888.3" y="224"/></g><g id="r3-9-11"><use href="#c" x="909.2" y="224"/></g><g id="r3-9-12"><use href="#c" x="930.1" y="224"/></g><g id="r3-9-13"><use href="#c" x="951" y="224"/></g>
<g id="r3-10-0"><use href="#s" x="679.3" y="245"/></g><g id="r3-10-1"><use href="#s" x="700.2" y="245"/></g><g id="r3-10-2"><use href="#s" x="721.1" y="245"/></g><g id="r3-10-3"><use href="#s" x="742" y="245"/></g><g id="r3-10-4"><use href="#s" x="762.9" y="245"/></g><g id="r3-10-5"><use href="#s" x="783.8" y="245"/></g><g id="r3-10-8"><use href="#s" x="846.5" y="245"/></g><g id="r3-10-9"><use href="#s" x="867.4" y="245"/></g><g id="r3-10-10"><use href="#s" x="888.3" y="245"/></g><g id="r3-10-11"><use href="#c" x="909.2" y="245"/></g><g id="r3-10-12"><use href="#c" x="930.1" y="245"/></g><g id="r3-10-13"><use href="#c" x="951" y="245"/></g>
<g id="r3-11-0"><use href="#s" x="679.3" y="266"/></g><g id="r3-11-1"><use href="#s" x="700.2" y="266"/></g><g id="r3-11-2"><use href="#s" x="721.1" y="266"/></g><g id="r3-11-3"><use href="#s" x="742" y="266"/></g><g id="r3-11-4"><use href="#s" x="762.9" y="266"/></g><g id="r3-11-5"><use href="#s" x="783.8" y="266"/></g><g id="r3-11-8"><use href="#s" x="846.5" y="266"/></g><g id="r3-11-9"><use href="#s" x="867.4" y="266"/></g><g id="r3-11-10"><use href="#s" x="888.3" y="266"/></g><g id="r3-11-11"><use href="#c" x="909.2" y="266"/></g><g id="r3-11-12"><use href="#c" x="930.1" y="266"/></g><g id="r3-11-13"><use href="#c" x="951" y="266"/></g>
<g id="r3-12-0"><use href="#s" x="679.3" y="287"/></g><g id="r3-12-1"><use href="#s" x="700.2" y="287"/></g><g id="r3-12-2"><use href="#s" x="721.1" y="287"/></g><g id="r3-12-3"><use href="#s" x="742" y="287"/></g><g id="r3-12-4"><use href="#s" x="762.9" y="287"/></g><g id="r3-12-5"><use href="#s" x="783.8" y="287"/></g><g id="r3-12-8"><use href="#s" x="846.5" y="287"/></g><g id="r3-12-9"><use href="#s" x="867.4" y="287"/></g><g id="r3-12-10"><use href="#s" x="888.3" y="287"/></g><g id="r3-12-11"><use href="#c" x="909.2" y="287"/></g><g id="r3-12-12"><use href="#c" x="930.1" y="287"/></g><g id="r3-12-13"><use href="#c" x="951" y="287"/></g>
<g id="r3-13-0"><use href="#s" x="679.3" y="308"/></g><g id="r3-13-1"><use href="#s" x="700.2" y="308"/></g><g id="r3-13-2"><use href="#s" x="721.1" y="308"/></g><g id="r3-13-3"><use href="#s" x="742" y="308"/></g><g id="r3-13-4"><use href="#s" x="762.9" y="308"/></g><g id="r3-13-5"><use href="#s" x="783.8" y="308"/></g><g id="r3-13-8"><use href="#s" x="846.5" y="308"/></g><g id="r3-13-9"><use href="#s" x="867.4" y="308"/></g><g id="r3-13-10"><use href="#s" x="888.3" y="308"/></g><g id="r3-13-11"><use href="#c" x="909.2" y="308"/></g><g id="r3-13-12"><use href="#c" x="930.1" y="308"/></g><g id="r3-13-13"><use href="#c" x="951" y="308"/></g>
<g id="r3-14-0"><use href="#s" x="679.3" y="329"/></g><g id="r3-14-1"><use href="#s" x="700.2" y="329"/></g><g id="r3-14-2"><use href="#s" x="721.1" y="329"/></g><g id="r3-14-3"><use href="#s" x="742" y="329"/></g><g id="r3-14-4"><use href="#s" x="762.9" y="329"/></g><g id="r3-14-5"><use href="#s" x="783.8" y="329"/></g><g id="r3-14-8"><use href="#s" x="846.5" y="329"/></g><g id="r3-14-9"><use href="#s" x="867.4" y="329"/></g><g id="r3-14-10"><use href="#s" x="888.3" y="329"/></g><g id="r3-14-11"><use href="#c" x="909.2" y="329"/></g><g id="r3-14-12"><use href="#c" x="930.1" y="329"/></g><g id="r3-14-13"><use href="#c" x="951" y="329"/></g>
</g>
</svg>
